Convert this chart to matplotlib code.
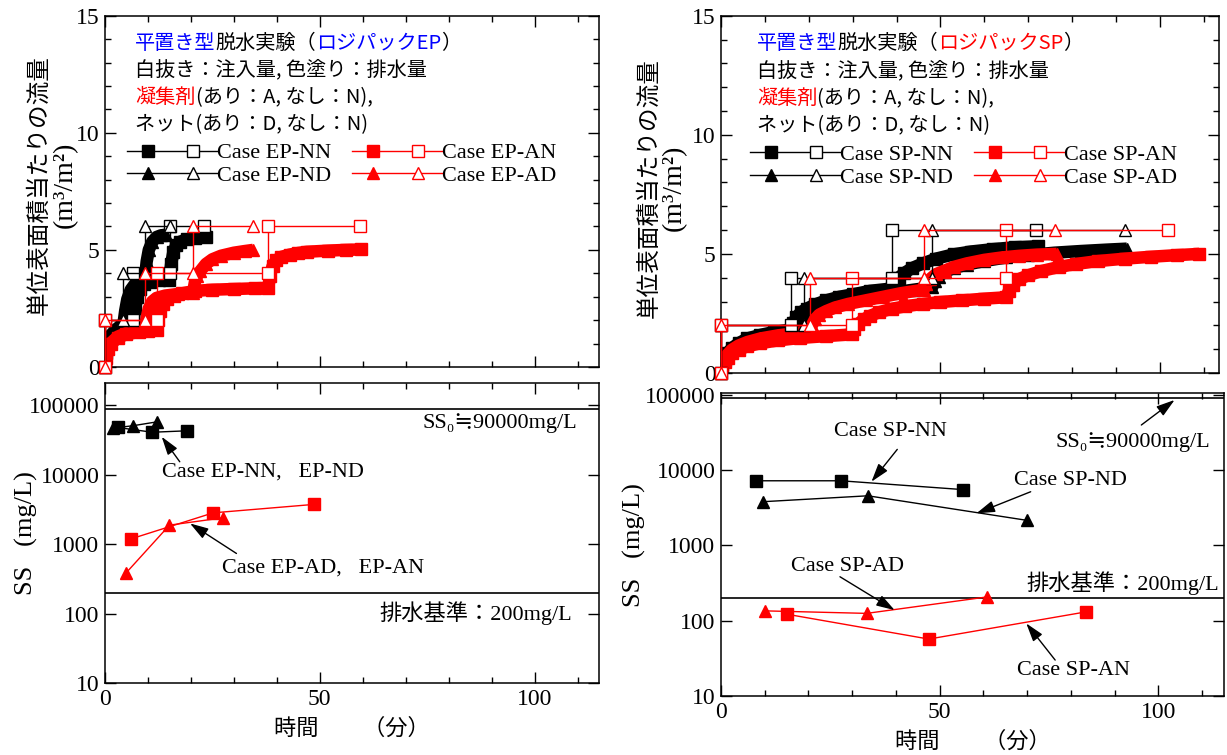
import matplotlib.pyplot as plt
from matplotlib.legend_handler import HandlerBase
from matplotlib.lines import Line2D
from matplotlib.ticker import MultipleLocator, FixedLocator, NullLocator, FuncFormatter

plt.rcParams['font.family'] = ['Liberation Serif', 'DejaVu Serif', 'Noto Sans CJK JP']
plt.rcParams['font.size'] = 16

JP = ['Noto Sans CJK JP', 'DejaVu Sans']
RED = '#ff0000'
BLUE = '#0000ff'

# ---------------- ロジパックEP ----------------
# 注入量 (白抜き)
ep_nn_in_t = [0, 0, 6.6, 6.6, 15.1, 15.1, 23.0]
ep_nd_in_t = [0, 0, 4.3, 4.3, 9.3, 9.3, 15.1]
ep_an_in_t = [0, 0, 12.0, 12.0, 38.0, 38.0, 59.3]
ep_ad_in_t = [0, 0, 9.3, 9.3, 20.5, 20.5, 34.5]
in_v = [0, 2, 2, 4, 4, 6, 6]

# 排水量 (色塗り)
ep_nn_out_t = [0, 0.3, 0.8, 1.5, 2.5, 4, 5.5, 6.6, 7.0, 7.5, 8.2, 9, 10.5, 12.5, 15.0,
               15.4, 15.9, 16.6, 17.5, 19, 21, 23.5]
ep_nn_out_v = [0, 0.6, 1.0, 1.3, 1.5, 1.7, 1.8, 1.85, 2.5, 3.0, 3.35, 3.55, 3.65, 3.7, 3.72,
               4.4, 4.9, 5.2, 5.35, 5.45, 5.5, 5.55]
ep_nd_out_t = [0, 0.3, 0.8, 1.5, 2.5, 3.5, 4.3, 4.7, 5.2, 6, 7, 8, 9.3,
               9.7, 10.2, 11, 12, 13, 14.2]
ep_nd_out_v = [0, 0.7, 1.1, 1.4, 1.6, 1.75, 1.85, 2.4, 2.9, 3.3, 3.55, 3.7, 3.8,
               4.5, 5.0, 5.35, 5.55, 5.62, 5.65]
ep_an_out_t = [0, 0.3, 0.8, 1.5, 3, 5, 8, 10, 12, 12.4, 12.9, 13.6, 14.5, 16, 18, 21, 25, 30, 35, 38,
               38.4, 39, 39.8, 41, 43, 45, 47, 52, 56, 59.5]
ep_an_out_v = [0, 0.4, 0.75, 1.0, 1.25, 1.4, 1.5, 1.55, 1.6, 2.0, 2.4, 2.7, 2.9, 3.05, 3.15, 3.25, 3.3, 3.33, 3.36, 3.38,
               3.9, 4.3, 4.55, 4.7, 4.8, 4.87, 4.92, 4.97, 5.0, 5.02]
ep_ad_out_t = [0, 0.3, 0.8, 1.5, 3, 5, 7, 9.3, 9.7, 10.2, 11, 12, 14, 17, 20.5,
               20.9, 21.4, 22.2, 23.5, 25, 27, 30, 32.5, 34.5]
ep_ad_out_v = [0, 0.45, 0.8, 1.05, 1.3, 1.45, 1.55, 1.62, 2.1, 2.5, 2.8, 2.95, 3.05, 3.12, 3.18,
               3.6, 3.9, 4.1, 4.4, 4.6, 4.75, 4.88, 4.95, 5.0]

# SS
ep_nn_ss_t = [3.0, 11.0, 19.1]
ep_nn_ss = [48000, 41000, 43000]
ep_nd_ss_t = [1.9, 6.6, 12.2]
ep_nd_ss = [47000, 51000, 58000]
ep_an_ss_t = [6.0, 25.2, 48.6]
ep_an_ss = [1190, 2830, 3740]
ep_ad_ss_t = [4.9, 15.0, 27.5]
ep_ad_ss = [385, 1880, 2400]

# ---------------- ロジパックSP ----------------
sp_nn_in_t = [0, 0, 16.0, 16.0, 39.0, 39.0, 71.8]
sp_nd_in_t = [0, 0, 19.0, 19.0, 48.1, 48.1, 92.1]
sp_an_in_t = [0, 0, 29.8, 29.8, 65.0, 65.0, 101.9]
sp_ad_in_t = [0, 0, 20.2, 20.2, 46.2, 46.2, 76.1]

sp_nn_out_t = [0, 0.3, 0.8, 1.5, 2.5, 4, 6, 9, 12, 16, 16.5, 17.2, 18.2, 19.5, 21.5, 24, 27, 30, 34, 39,
               39.6, 40.5, 41.8, 43.5, 46, 49, 53, 57, 62, 67, 72.2]
sp_nn_out_v = [0, 0.35, 0.6, 0.85, 1.05, 1.25, 1.45, 1.6, 1.72, 1.82, 2.1, 2.35, 2.55, 2.7, 2.88, 3.05, 3.2, 3.3, 3.45, 3.55,
               3.8, 4.0, 4.2, 4.4, 4.6, 4.8, 4.98, 5.1, 5.2, 5.28, 5.32]
sp_nd_out_t = [0, 0.3, 0.8, 1.5, 2.5, 4, 6, 9, 13, 19, 19.5, 20.2, 21.2, 22.5, 25, 28, 32, 36, 40, 44, 48.1,
               48.7, 49.6, 51, 53, 56, 60, 65, 70, 76, 82, 88, 92.5]
sp_nd_out_v = [0, 0.3, 0.55, 0.8, 1.0, 1.2, 1.38, 1.55, 1.7, 1.85, 2.15, 2.4, 2.55, 2.7, 2.85, 3.0, 3.15, 3.28, 3.4, 3.5, 3.6,
               3.85, 4.05, 4.25, 4.4, 4.55, 4.7, 4.85, 4.95, 5.05, 5.12, 5.18, 5.22]
sp_an_out_t = [0, 0.3, 0.8, 1.5, 2.5, 4, 6, 9, 13, 18, 24, 29.8, 30.4, 31.2, 32.5, 34, 36, 39, 42, 46, 50, 55, 60, 65,
               65.6, 66.5, 68, 70, 73, 77, 81, 86, 92, 98, 104, 109]
sp_an_out_v = [0, 0.25, 0.45, 0.65, 0.82, 0.98, 1.12, 1.25, 1.37, 1.47, 1.55, 1.62, 1.85, 2.05, 2.25, 2.4, 2.55, 2.7, 2.8,
               2.9, 2.98, 3.05, 3.12, 3.18, 3.45, 3.7, 3.95, 4.1, 4.28, 4.45, 4.58, 4.7, 4.8, 4.88, 4.95, 5.0]
sp_ad_out_t = [0, 0.3, 0.8, 1.5, 2.5, 4, 6, 9, 13, 20.2, 20.7, 21.4, 22.4, 24, 26, 29, 33, 37, 41, 46.2,
               46.8, 47.7, 49, 51, 53, 56, 60, 64, 68, 72, 76.5]
sp_ad_out_v = [0, 0.3, 0.55, 0.78, 0.98, 1.15, 1.3, 1.45, 1.58, 1.75, 2.0, 2.25, 2.45, 2.6, 2.75, 2.9, 3.05, 3.2, 3.35, 3.5,
               3.75, 3.95, 4.15, 4.3, 4.45, 4.6, 4.75, 4.85, 4.92, 4.97, 5.0]

sp_nn_ss_t = [7.9, 27.4, 55.3]
sp_nn_ss = [7200, 7200, 5500]
sp_nd_ss_t = [9.7, 33.6, 69.9]
sp_nd_ss = [3800, 4550, 2150]
sp_an_ss_t = [15.0, 47.5, 83.5]
sp_an_ss = [122, 57, 131]
sp_ad_ss_t = [10.0, 33.3, 60.9]
sp_ad_ss = [135, 125, 207]

ss0 = 90000
ss_limit = 200

W, H = 1227, 755


def box(x0, y0, x1, y1):
    return [x0 / W, 1 - y1 / H, (x1 - x0) / W, (y1 - y0) / H]


class PairHandler(HandlerBase):
    # 線 + 色塗りマーカー + 白抜きマーカー
    def create_artists(self, legend, orig_handle, xdescent, ydescent, width, height, fontsize, trans):
        y = height / 2 - ydescent
        c = orig_handle.get_color()
        m = orig_handle.get_marker()
        ln = Line2D([-xdescent, width - xdescent], [y, y], color=c, lw=1.0)
        f = Line2D([width * 0.23 - xdescent], [y], marker=m, color=c, ms=8.5, ls='none')
        o = Line2D([width * 0.73 - xdescent], [y], marker=m, mec=c, mfc='white', mew=1.0, ms=8, ls='none')
        for a in (ln, f, o):
            a.set_transform(trans)
        return [ln, f, o]


def style(ax):
    for s in ax.spines.values():
        s.set_linewidth(1.1)
    ax.tick_params(which='both', direction='in', top=True, right=True, width=1.0, labelsize=17, pad=4)
    ax.tick_params(which='major', length=8)
    ax.tick_params(which='minor', length=4)
    ax.xaxis.set_major_locator(MultipleLocator(50))
    ax.xaxis.set_minor_locator(MultipleLocator(10))


def rich_line(ax, x, y, parts):
    t = ax.text(x, y, parts[0][0], color=parts[0][1], transform=ax.transAxes,
                va='center', ha='left', fontsize=14.5, family=JP)
    for s, c in parts[1:]:
        t = ax.annotate(s, xy=(1, 0), xycoords=t, va='bottom', ha='left', color=c,
                        fontsize=14.5, family=JP)


def flow_panel(ax, outs, ins, name, xmax, txt_x, txt_y, leg_xy, lab_x):
    style(ax)
    ax.set_xlim(0, xmax)
    ax.set_ylim(0, 15)
    ax.yaxis.set_major_locator(MultipleLocator(5))
    ax.yaxis.set_minor_locator(MultipleLocator(1))
    ax.tick_params(labelbottom=False)
    handles = []
    for (t, v, c, m, lab) in outs:
        h, = ax.plot(t, v, color=c, marker=m, ms=9, lw=9, solid_capstyle='butt', label=lab, zorder=2)
        handles.append(h)
    for (t, c, m) in ins:
        ax.plot(t, in_v, color=c, marker=m, ms=8, mfc='white', mec=c, mew=1.0, lw=1.0, zorder=3,
                clip_on=False)
    # 縦軸ラベル (2行)
    ax.text(lab_x[0], 0.518, '単位表面積当たりの流量', rotation=90, ha='center', va='center',
            transform=ax.transAxes, fontsize=17, family=['Noto Sans CJK JP'])
    ax.text(lab_x[1], 0.518, '(m³/m²)', rotation=90, ha='center', va='center',
            transform=ax.transAxes, fontsize=20)
    col = BLUE if name == 'EP' else RED
    dy = 0.077
    rich_line(ax, txt_x, txt_y, [('平置き型', BLUE), ('脱水実験（', 'k'), ('ロジパック' + name, col), ('）', 'k')])
    rich_line(ax, txt_x, txt_y - dy, [('白抜き：注入量, 色塗り：排水量', 'k')])
    rich_line(ax, txt_x, txt_y - 2 * dy, [('凝集剤', RED), ('(あり：A, なし：N),', 'k')])
    rich_line(ax, txt_x, txt_y - 3 * dy, [('ネット(あり：D, なし：N)', 'k')])
    ax.legend(handles=handles, loc='upper left', bbox_to_anchor=leg_xy, ncol=2, frameon=False,
              handler_map={Line2D: PairHandler()}, handlelength=4.05, handletextpad=0.0,
              columnspacing=0.95, borderpad=0, borderaxespad=0, labelspacing=0.1, fontsize=16)


def ss_panel(ax, series, ymax, xmax, lab_x):
    style(ax)
    ax.set_yscale('log')
    ax.set_xlim(0, xmax)
    ax.set_ylim(10, ymax)
    ax.yaxis.set_major_locator(FixedLocator([10, 100, 1000, 10000, 100000]))
    ax.yaxis.set_minor_locator(NullLocator())
    ax.yaxis.set_major_formatter(FuncFormatter(lambda v, p: f'{int(round(v))}'))
    ax.axhline(ss0, color='k', lw=1.2, zorder=1)
    ax.axhline(ss_limit, color='k', lw=1.2, zorder=1)
    for (t, s, c, m) in series:
        ax.plot(t, s, color=c, marker=m, ms=9, lw=1.0, zorder=3)
    ax.set_ylabel('SS   (mg/L)', fontsize=19)
    ax.yaxis.set_label_coords(lab_x, 0.5)
    ax.set_xlabel('時間　　（分）', family=JP, fontsize=16, labelpad=5)


def arrow(ax, tail, head):
    ax.annotate('', xy=head, xytext=tail,
                arrowprops=dict(arrowstyle='-|>,head_length=0.7,head_width=0.22', color='k', lw=1.0,
                                shrinkA=0, shrinkB=0))


fig = plt.figure(figsize=(W / 100, H / 100), dpi=100)

# ---- 左 (EP) ----
ax1 = fig.add_axes(box(105, 15.7, 599, 367))
flow_panel(ax1,
           [(ep_nn_out_t, ep_nn_out_v, 'k', 's', 'Case EP-NN'),
            (ep_nd_out_t, ep_nd_out_v, 'k', '^', 'Case EP-ND'),
            (ep_an_out_t, ep_an_out_v, RED, 's', 'Case EP-AN'),
            (ep_ad_out_t, ep_ad_out_v, RED, '^', 'Case EP-AD')],
           [(ep_nn_in_t, 'k', 's'), (ep_nd_in_t, 'k', '^'),
            (ep_an_in_t, RED, 's'), (ep_ad_in_t, RED, '^')],
           'EP', 115, 0.061, 0.922, (0.045, 0.638), (-0.134, -0.081))

ax2 = fig.add_axes(box(105, 383, 599, 683))
ss_panel(ax2,
         [(ep_nn_ss_t, ep_nn_ss, 'k', 's'), (ep_nd_ss_t, ep_nd_ss, 'k', '^'),
          (ep_an_ss_t, ep_an_ss, RED, 's'), (ep_ad_ss_t, ep_ad_ss, RED, '^')],
         210000, 115, -0.135)
ax2.text(109.8, 55700, 'SS₀≒90000mg/L', ha='right', va='center', fontsize=16)
ax2.text(108.8, 101, '排水基準：200mg/L', ha='right', va='center', fontsize=16)
ax2.text(13.3, 10950, 'Case EP-NN,   EP-ND', ha='left', va='center', fontsize=16)
arrow(ax2, (17.4, 15400), (13.2, 35300))
ax2.text(27.2, 451, 'Case EP-AD,   EP-AN', ha='left', va='center', fontsize=16)
arrow(ax2, (30.6, 735), (19.8, 1990))

# ---- 右 (SP) ----
ax3 = fig.add_axes(box(721, 15.7, 1219, 373))
flow_panel(ax3,
           [(sp_nn_out_t, sp_nn_out_v, 'k', 's', 'Case SP-NN'),
            (sp_nd_out_t, sp_nd_out_v, 'k', '^', 'Case SP-ND'),
            (sp_an_out_t, sp_an_out_v, RED, 's', 'Case SP-AN'),
            (sp_ad_out_t, sp_ad_out_v, RED, '^', 'Case SP-AD')],
           [(sp_nn_in_t, 'k', 's'), (sp_nd_in_t, 'k', '^'),
            (sp_an_in_t, RED, 's'), (sp_ad_in_t, RED, '^')],
           'SP', 113.5, 0.072, 0.923, (0.058, 0.639), (-0.145, -0.093))

ax4 = fig.add_axes(box(721, 393.3, 1224, 696))
ss_panel(ax4,
         [(sp_nn_ss_t, sp_nn_ss, 'k', 's'), (sp_nd_ss_t, sp_nd_ss, 'k', '^'),
          (sp_an_ss_t, sp_an_ss, RED, 's'), (sp_ad_ss_t, sp_ad_ss, RED, '^')],
         104400, 115, -0.15)
ax4.text(38.8, 32300, 'Case SP-NN', ha='center', va='center', fontsize=16)
arrow(ax4, (40.3, 18800), (34.4, 7000))
ax4.text(79.9, 7360, 'Case SP-ND', ha='center', va='center', fontsize=16)
arrow(ax4, (70.8, 5150), (58.4, 2660))
ax4.text(94.1, 23800, 'SS₀≒90000mg/L', ha='center', va='center', fontsize=16)
arrow(ax4, (96.1, 39600), (103.7, 85100))
ax4.text(29.0, 520, 'Case SP-AD', ha='center', va='center', fontsize=16)
arrow(ax4, (27.2, 383), (39.7, 138))
ax4.text(113.9, 316, '排水基準：200mg/L', ha='right', va='center', fontsize=16)
ax4.text(80.6, 22, 'Case SP-AN', ha='center', va='center', fontsize=16)
arrow(ax4, (76.4, 30), (69.8, 92))

fig.savefig('out.png', dpi=100)
